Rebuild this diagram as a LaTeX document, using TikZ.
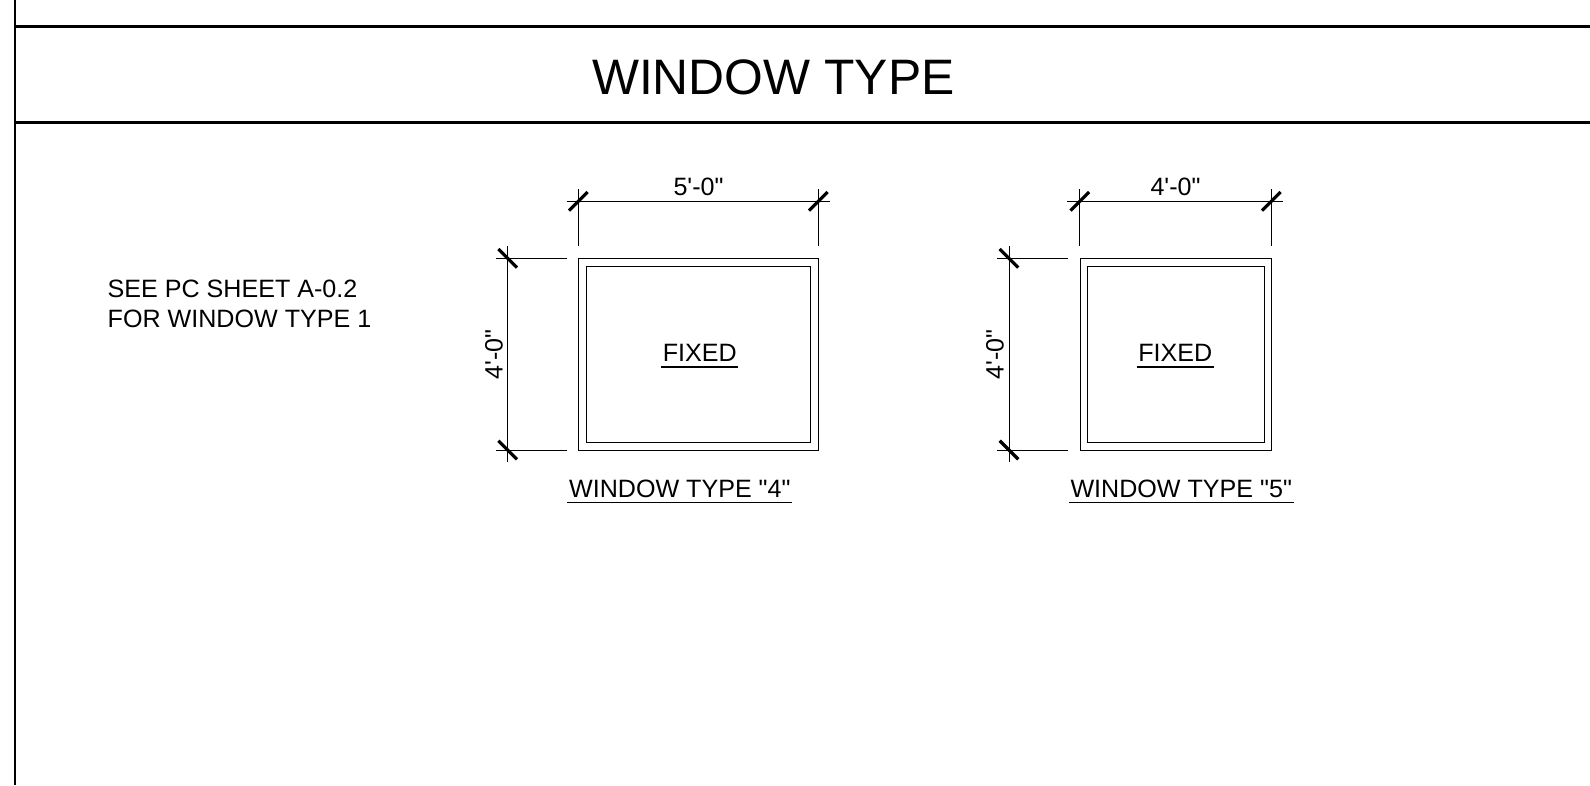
\documentclass[tikz,border=0pt]{standalone}
\usepackage{fontspec}
\newfontfamily\sheetfont{Liberation Sans}
\usepackage{tikz}

\begin{document}
\begin{tikzpicture}[x=1pt, y=-1pt]
        \tikzset{every node/.style={inner sep=0pt, font=\sheetfont\fontsize{25.1}{30}\selectfont}}
        \tikzset{sheetline/.style={line width=2.4pt}}
        \tikzset{dimline/.style={line width=1pt}}
        \tikzset{dimtick/.style={line width=3.2pt}}
        \tikzset{glass/.style={draw, line width=1.1pt}}
        \tikzset{label/.style={anchor=base}}
        \tikzset{ulabel/.style={anchor=base, inner xsep=1.5pt}}
        \tikzset{uline/.style={line width=1.3pt}}
        \useasboundingbox (0,0) rectangle (1590,785);
        % sheet
        \coordinate (tl) at (14.8,0);
        \coordinate (bl) at (14.8,785);
        \coordinate (al) at (14.8,26.5);
        \coordinate (ar) at (1590,26.5);
        \coordinate (cl) at (14.8,122.5);
        \coordinate (cr) at (1590,122.5);
        \draw [sheetline] (tl) -- (bl);
        \draw [sheetline] (al) -- (ar);
        \draw [sheetline] (cl) -- (cr);
        \node [label, font=\sheetfont\fontsize{49.8}{50}\selectfont] (title) at (773.3,94.5) {WINDOW TYPE};
        \node [anchor=north west, align=left] (note) at (107.5,279.5) {SEE PC SHEET A-0.2\\FOR WINDOW TYPE 1};
        % type 4
        \node [glass, anchor=north west, minimum width=240pt, minimum height=191.7pt] (outerA) at (578.3,258.3) {};
        \node [glass, anchor=north west, minimum width=224pt, minimum height=175.7pt] (innerA) at (586.3,266.3) {};
        \node [ulabel] (fixedA) at (699.8,361) {FIXED};
        \node [ulabel] (typeA) at (679.8,497) {WINDOW TYPE "4"};
        \node [label] (widthA) at (698.5,195) {5'-0"};
        \node [label, rotate=90] (heightA) at (502.5,354.5) {4'-0"};
        \draw [uline] ([yshift=-6pt]fixedA.base west) -- ([yshift=-6pt]fixedA.base east);
        \draw [uline] ([yshift=-5.5pt]typeA.base west) -- ([yshift=-5.5pt]typeA.base east);
        \coordinate (a1) at (578.3,201.3);
        \coordinate (a2) at (818.3,201.3);
        \coordinate (a3) at (507.7,258.3);
        \coordinate (a4) at (507.7,450);
        \draw [dimline] (566.7,201.3) -- (830,201.3);
        \draw [dimline] (578.3,189.3) -- (578.3,246);
        \draw [dimline] (818.3,189.3) -- (818.3,246);
        \draw [dimline] (507.7,246) -- (507.7,462);
        \draw [dimline] (496,258.3) -- (566.7,258.3);
        \draw [dimline] (496,450) -- (566.7,450);
        \draw [dimtick] ([shift={(-9.3,9.3)}]a1) -- ([shift={(9.3,-9.3)}]a1);
        \draw [dimtick] ([shift={(-9.3,9.3)}]a2) -- ([shift={(9.3,-9.3)}]a2);
        \draw [dimtick] ([shift={(-9.3,-9.3)}]a3) -- ([shift={(9.3,9.3)}]a3);
        \draw [dimtick] ([shift={(-9.3,-9.3)}]a4) -- ([shift={(9.3,9.3)}]a4);
        % type 5
        \node [glass, anchor=north west, minimum width=191.6pt, minimum height=191.7pt] (outerB) at (1079.7,258.3) {};
        \node [glass, anchor=north west, minimum width=176.4pt, minimum height=175.7pt] (innerB) at (1087.3,266.3) {};
        \node [ulabel] (fixedB) at (1175.2,361) {FIXED};
        \node [ulabel] (typeB) at (1181.2,497) {WINDOW TYPE "5"};
        \node [label] (widthB) at (1175.5,195) {4'-0"};
        \node [label, rotate=90] (heightB) at (1003.5,354.5) {4'-0"};
        \draw [uline] ([yshift=-6pt]fixedB.base west) -- ([yshift=-6pt]fixedB.base east);
        \draw [uline] ([yshift=-5.5pt]typeB.base west) -- ([yshift=-5.5pt]typeB.base east);
        \coordinate (b1) at (1079.7,201.3);
        \coordinate (b2) at (1271.3,201.3);
        \coordinate (b3) at (1009,258.3);
        \coordinate (b4) at (1009,450);
        \draw [dimline] (1067.3,201.3) -- (1283.3,201.3);
        \draw [dimline] (1079.7,189.3) -- (1079.7,246);
        \draw [dimline] (1271.3,189.3) -- (1271.3,246);
        \draw [dimline] (1009,246) -- (1009,462);
        \draw [dimline] (997,258.3) -- (1067.7,258.3);
        \draw [dimline] (997,450) -- (1067.7,450);
        \draw [dimtick] ([shift={(-9.3,9.3)}]b1) -- ([shift={(9.3,-9.3)}]b1);
        \draw [dimtick] ([shift={(-9.3,9.3)}]b2) -- ([shift={(9.3,-9.3)}]b2);
        \draw [dimtick] ([shift={(-9.3,-9.3)}]b3) -- ([shift={(9.3,9.3)}]b3);
        \draw [dimtick] ([shift={(-9.3,-9.3)}]b4) -- ([shift={(9.3,9.3)}]b4);
      \end{tikzpicture}
\end{document}
